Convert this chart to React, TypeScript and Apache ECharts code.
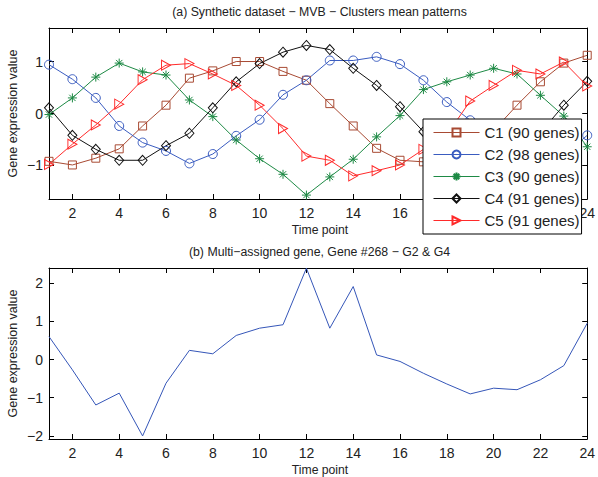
import React, { useEffect, useRef } from "react";
import * as echarts from "echarts";

const timePoints = [1, 2, 3, 4, 5, 6, 7, 8, 9, 10, 11, 12, 13, 14, 15, 16, 17, 18, 19, 20, 21, 22, 23, 24];
const xTicks = [2, 4, 6, 8, 10, 12, 14, 16, 18, 20, 22, 24];
// labels 18, 20 and 22 of the upper panel are hidden behind the legend in the reference
const xLabelsTop = [2, 4, 6, 8, 10, 12, 14, 16, 24];
const xLabelsBottom = [2, 4, 6, 8, 10, 12, 14, 16, 18, 20, 22, 24];
const yTicksTop = [-1, 0, 1];
const yTicksBottom = [-2, -1, 0, 1, 2];

const clusterNames = ["C1 (90 genes)", "C2 (98 genes)", "C3 (90 genes)", "C4 (91 genes)", "C5 (91 genes)"];
const c1 = [-0.92, -0.99, -0.86, -0.68, -0.24, 0.16, 0.68, 0.82, 1.0, 1.0, 0.81, 0.64, 0.19, -0.24, -0.67, -0.9, -0.93, -0.95, -0.78, -0.33, 0.16, 0.61, 0.97, 1.12];
const c2 = [0.94, 0.66, 0.3, -0.24, -0.56, -0.72, -0.96, -0.78, -0.43, -0.12, 0.36, 0.64, 1.02, 1.02, 1.09, 0.95, 0.64, 0.22, -0.13, -0.5, -0.75, -0.92, -0.8, -0.42];
const c3 = [-0.02, 0.3, 0.7, 0.97, 0.8, 0.74, 0.26, -0.06, -0.51, -0.87, -1.17, -1.57, -1.22, -0.88, -0.45, -0.04, 0.46, 0.61, 0.74, 0.87, 0.76, 0.35, -0.05, -0.64];
const c4 = [0.11, -0.42, -0.69, -0.9, -0.9, -0.62, -0.38, 0.11, 0.61, 0.96, 1.18, 1.31, 1.23, 0.87, 0.54, 0.13, -0.35, -0.65, -0.88, -0.92, -0.8, -0.37, 0.16, 0.62];
const c5 = [-0.98, -0.59, -0.22, 0.18, 0.65, 0.93, 0.96, 0.76, 0.54, 0.16, -0.29, -0.82, -0.9, -1.2, -1.1, -0.99, -0.69, -0.41, 0.24, 0.54, 0.83, 0.76, 0.99, 0.53];
const gene268 = [0.6, -0.27, -1.19, -0.88, -2.0, -0.62, 0.24, 0.15, 0.63, 0.82, 0.91, 2.39, 0.82, 1.91, 0.12, -0.05, -0.36, -0.64, -0.9, -0.75, -0.79, -0.53, -0.16, 0.95];

const clusterColors = ["#A84A33", "#3A5CC0", "#1E8A45", "#111111", "#FF2A2A"];
const clusterSymbols = [
  "rect",
  "circle",
  "path://M5,0L5,10M0,5L10,5M1.5,1.5L8.5,8.5M1.5,8.5L8.5,1.5",
  "diamond",
  "path://M0,0L10,5L0,10Z",
];
const clusterSymbolSizes: any[] = [8, 9, 9, [9, 10], [9, 10]];

const FONT = "'Liberation Sans', Arial, Helvetica, sans-serif";
const minus = (v: number) => String(v).replace("-", "\u2212");

function xAxes(gridIndex: number, labels: number[]) {
  const base = {
    type: "value",
    gridIndex,
    min: 1,
    max: 24,
    splitLine: { show: false },
    axisLine: { show: true, onZero: false, lineStyle: { color: "#000", width: 1 } },
    axisTick: { show: true, inside: true, length: 5, customValues: xTicks, lineStyle: { color: "#000" } },
  };
  return [
    {
      ...base,
      position: "bottom",
      axisLabel: { show: true, customValues: labels, margin: 7, fontSize: 14, fontFamily: FONT, color: "#222" },
    },
    { ...base, position: "top", axisLabel: { show: false } },
  ];
}

function yAxes(gridIndex: number, min: number, max: number, ticks: number[]) {
  const base = {
    type: "value",
    gridIndex,
    min,
    max,
    splitLine: { show: false },
    axisLine: { show: true, onZero: false, lineStyle: { color: "#000", width: 1 } },
    axisTick: { show: true, inside: true, length: 5, customValues: ticks, lineStyle: { color: "#000" } },
  };
  return [
    {
      ...base,
      position: "left",
      axisLabel: {
        show: true,
        customValues: ticks,
        margin: 6,
        fontSize: 14,
        fontFamily: FONT,
        color: "#222",
        formatter: (v: number) => minus(v),
      },
    },
    { ...base, position: "right", axisLabel: { show: false } },
  ];
}

export default function App() {
  const ref = useRef<HTMLDivElement>(null);
  useEffect(() => {
    if (!ref.current) return;
    const chart = echarts.init(ref.current, undefined, { renderer: "svg" });
    const clusters = [c1, c2, c3, c4, c5];
    const clusterSeries = clusters.map((vals, i) => ({
      type: "line",
      name: clusterNames[i],
      xAxisIndex: 0,
      yAxisIndex: 0,
      data: timePoints.map((t, k) => [t, vals[k]]),
      symbol: clusterSymbols[i],
      symbolSize: clusterSymbolSizes[i],
      showAllSymbol: true,
      lineStyle: { color: clusterColors[i], width: 1 },
      itemStyle: { color: "rgba(0,0,0,0)", borderColor: clusterColors[i], borderWidth: 1 },
      emphasis: { disabled: true },
    }));
    const smallText = (x: number, y: number, text: string, size: number, rotation = 0) => ({
      type: "text",
      x,
      y,
      rotation,
      style: { text, fontSize: size, fontFamily: FONT, fill: "#222", align: "center", verticalAlign: "middle" },
    });
    const option: any = {
      animation: false,
      grid: [
        { left: 49, top: 28, width: 541, height: 171 },
        { left: 49, top: 268, width: 541, height: 171 },
      ],
      xAxis: [...xAxes(0, xLabelsTop), ...xAxes(1, xLabelsBottom)],
      yAxis: [...yAxes(0, -1.645, 1.645, yTicksTop), ...yAxes(1, -2.08, 2.395, yTicksBottom)],
      legend: {
        data: clusterNames,
        orient: "vertical",
        left: 423,
        top: 119,
        padding: [6, 2, 6, 10],
        itemWidth: 46,
        itemHeight: 10,
        itemGap: 7,
        backgroundColor: "#fff",
        borderColor: "#000",
        borderWidth: 1,
        borderRadius: 0,
        selectedMode: false,
        lineStyle: { width: 1 },
        textStyle: { fontSize: 15, fontFamily: FONT, color: "#222", lineHeight: 15 },
      },
      series: [
        ...clusterSeries,
        {
          type: "line",
          name: "Gene #268",
          xAxisIndex: 2,
          yAxisIndex: 2,
          data: timePoints.map((t, k) => [t, gene268[k]]),
          symbol: "none",
          lineStyle: { color: "#3556B8", width: 1 },
          itemStyle: { color: "#3556B8" },
          emphasis: { disabled: true },
        },
      ],
      graphic: [
        smallText(319.5, 12, "(a) Synthetic dataset \u2212 MVB \u2212 Clusters mean patterns", 12.3),
        smallText(319.5, 252, "(b) Multi\u2212assigned gene, Gene #268 \u2212 G2 & G4", 12.3),
        smallText(320, 230, "Time point", 12.2),
        smallText(320, 470, "Time point", 12.2),
        smallText(13, 113.5, "Gene expression value", 12.5, Math.PI / 2),
        smallText(13, 353.5, "Gene expression value", 12.5, Math.PI / 2),
      ],
    };
    chart.setOption(option);
    return () => chart.dispose();
  }, []);
  return (
    <div
      ref={ref}
      style={{ position: "fixed", left: 0, top: 0, width: 598, height: 477, background: "#fff" }}
    />
  );
}
